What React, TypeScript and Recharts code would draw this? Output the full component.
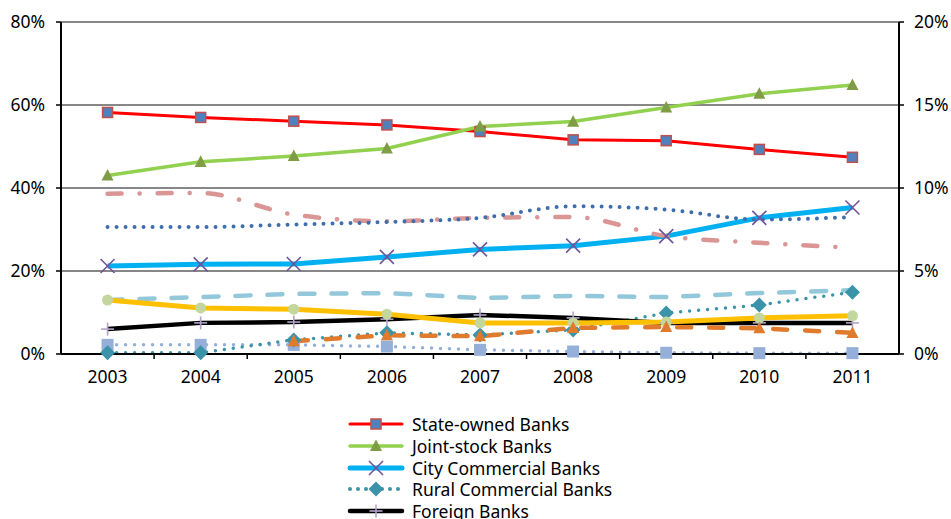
import React from "react";
import {
  CartesianGrid,
  Line,
  LineChart,
  XAxis,
  YAxis,
} from "recharts";

const FONT = "'Noto Sans', 'Open Sans', sans-serif";

const years = ["2003", "2004", "2005", "2006", "2007", "2008", "2009", "2010", "2011"];

// left axis (%)
const stateOwned = [58.2, 57.0, 56.1, 55.2, 53.6, 51.6, 51.4, 49.3, 47.4];
const jointStock = [43.0, 46.3, 47.7, 49.5, 54.8, 56.0, 59.4, 62.7, 64.8];
const cityCommercial = [21.2, 21.6, 21.7, 23.4, 25.2, 26.1, 28.4, 32.8, 35.3];
const ruralCommercial = [0.3, 0.3, 3.4, 5.1, 4.6, 5.8, 9.9, 11.8, 14.9];
const foreign = [6.0, 7.5, 7.7, 8.4, 9.4, 8.7, 7.5, 7.5, 7.5];
const yellowSeries = [13.0, 11.1, 10.8, 9.6, 7.5, 7.5, 7.7, 8.7, 9.2];
const orangeSeries = [null, null, 3.1, 4.5, 4.3, 6.3, 6.5, 6.2, 5.1];
const steelSeries = [2.2, 2.2, 2.2, 1.8, 1.0, 0.6, 0.3, 0.2, 0.2];

// right axis (%)
const pinkSeries = [9.65, 9.7, 8.4, 8.0, 8.2, 8.25, 7.1, 6.7, 6.4];
const navySeries = [7.65, 7.65, 7.8, 7.95, 8.2, 8.9, 8.7, 8.1, 8.25];
const paleBlueSeries = [3.25, 3.43, 3.62, 3.67, 3.37, 3.5, 3.43, 3.67, 3.85];

const leftTicks = [0, 20, 40, 60, 80];
const rightTicks = [0, 5, 10, 15, 20];

const data = years.map((year, i) => ({
  year,
  stateOwned: stateOwned[i],
  jointStock: jointStock[i],
  cityCommercial: cityCommercial[i],
  ruralCommercial: ruralCommercial[i],
  foreign: foreign[i],
  yellowSeries: yellowSeries[i],
  orangeSeries: orangeSeries[i],
  steelSeries: steelSeries[i],
  pinkSeries: pinkSeries[i],
  navySeries: navySeries[i],
  paleBlueSeries: paleBlueSeries[i],
}));

type MarkerSpec = {
  kind: "square" | "triangle" | "x" | "diamond" | "plus" | "circle";
  fill: string;
  stroke?: string;
  size: number;
};

function Marker({ cx, cy, spec }: { cx: number; cy: number; spec: MarkerSpec }) {
  const s = spec.size;
  const h = s / 2;
  switch (spec.kind) {
    case "square":
      return (
        <rect
          x={cx - h}
          y={cy - h}
          width={s}
          height={s}
          fill={spec.fill}
          stroke={spec.stroke ?? "none"}
          strokeWidth={1.5}
        />
      );
    case "triangle":
      return (
        <polygon
          points={`${cx},${cy - s * 0.55} ${cx + h},${cy + s * 0.42} ${cx - h},${cy + s * 0.42}`}
          fill={spec.fill}
        />
      );
    case "diamond":
      return (
        <polygon
          points={`${cx},${cy - h} ${cx + h},${cy} ${cx},${cy + h} ${cx - h},${cy}`}
          fill={spec.fill}
        />
      );
    case "x":
      return (
        <g stroke={spec.fill} strokeWidth={1.6}>
          <line x1={cx - h} y1={cy - h} x2={cx + h} y2={cy + h} />
          <line x1={cx - h} y1={cy + h} x2={cx + h} y2={cy - h} />
        </g>
      );
    case "plus":
      return (
        <g stroke={spec.fill} strokeWidth={1.6}>
          <line x1={cx - h} y1={cy} x2={cx + h} y2={cy} />
          <line x1={cx} y1={cy - h} x2={cx} y2={cy + h} />
        </g>
      );
    default:
      return <circle cx={cx} cy={cy} r={h} fill={spec.fill} />;
  }
}

function makeDot(spec: MarkerSpec) {
  return (props: any) => {
    const { cx, cy, index } = props;
    if (cx == null || cy == null || props.value == null) return <g key={`m-${index}`} />;
    return (
      <g key={`m-${index}`}>
        <Marker cx={cx} cy={cy} spec={spec} />
      </g>
    );
  };
}

const markers: Record<string, MarkerSpec> = {
  state: { kind: "square", fill: "#4F81BD", stroke: "#C0504D", size: 10 },
  joint: { kind: "triangle", fill: "#7E9D45", size: 12 },
  city: { kind: "x", fill: "#70549C", size: 14 },
  rural: { kind: "diamond", fill: "#3A93A8", size: 15 },
  foreign: { kind: "plus", fill: "#B3A2C7", size: 13 },
  yellow: { kind: "circle", fill: "#C3D69B", size: 11 },
  orange: { kind: "triangle", fill: "#E07B2E", size: 12 },
  steel: { kind: "square", fill: "#95AFD8", size: 12 },
};

const legendItems = [
  { label: "State-owned Banks", color: "#FF0000", width: 3, dash: undefined, marker: markers.state },
  { label: "Joint-stock Banks", color: "#92D050", width: 3.5, dash: undefined, marker: markers.joint },
  { label: "City Commercial Banks", color: "#00B0F0", width: 5, dash: undefined, marker: markers.city },
  { label: "Rural Commercial Banks", color: "#3A93A8", width: 4, dash: "0 8", marker: markers.rural },
  { label: "Foreign Banks", color: "#000000", width: 4.5, dash: undefined, marker: markers.foreign },
];

function YearTick(props: any) {
  const { x, y, payload, index, visibleTicksCount, width } = props;
  const half = width && visibleTicksCount ? width / visibleTicksCount / 2 : 46.5;
  return (
    <g>
      {index < visibleTicksCount - 1 && (
        <line x1={x + half} x2={x + half} y1={y} y2={y + 5} stroke="#000" strokeWidth={1.5} />
      )}
      <text x={x} y={y + 29} textAnchor="middle" fontSize={17.5} fontFamily={FONT} fill="#000">
        {payload.value}
      </text>
    </g>
  );
}

const tickStyle = { fill: "#000", fontSize: 17.5, fontFamily: FONT };

export default function App() {
  return (
    <div
      style={{
        position: "absolute",
        left: 0,
        top: 0,
        width: 951,
        height: 519,
        overflow: "hidden",
        background: "#fff",
        fontFamily: FONT,
      }}
    >
      <LineChart
        width={951}
        height={519}
        data={data}
        margin={{ top: 22, right: 0, bottom: 135, left: 0 }}
      >
        <CartesianGrid vertical={false} stroke="#878787" strokeWidth={2} yAxisId="left" />
        <XAxis
          dataKey="year"
          scale="band"
          height={30}
          tickLine={false}
          tickSize={0}
          tickMargin={0}
          axisLine={{ stroke: "#000", strokeWidth: 2 }}
          tick={<YearTick />}
          interval={0}
        />
        <XAxis
          xAxisId="top"
          dataKey="year"
          scale="band"
          orientation="top"
          height={0}
          tick={false}
          tickLine={false}
          axisLine={{ stroke: "#000", strokeWidth: 2 }}
        />
        <YAxis
          yAxisId="left"
          width={61}
          domain={[0, 80]}
          ticks={leftTicks}
          tickFormatter={(v) => `${v}%`}
          axisLine={{ stroke: "#000", strokeWidth: 2 }}
          tickLine={{ stroke: "#000", strokeWidth: 1.5 }}
          tickSize={5}
          tickMargin={11}
          tick={tickStyle}
        />
        <YAxis
          yAxisId="right"
          orientation="right"
          width={52}
          domain={[0, 20]}
          ticks={rightTicks}
          tickFormatter={(v) => `${v}%`}
          axisLine={{ stroke: "#000", strokeWidth: 2 }}
          tickLine={{ stroke: "#000", strokeWidth: 1.5 }}
          tickSize={5}
          tickMargin={10}
          tick={tickStyle}
        />

        <Line yAxisId="left" dataKey="stateOwned" name="State-owned Banks" type="linear" stroke="#FF0000" strokeWidth={3} dot={makeDot(markers.state)} isAnimationActive={false} />
        <Line yAxisId="left" dataKey="jointStock" name="Joint-stock Banks" type="linear" stroke="#92D050" strokeWidth={3.5} dot={makeDot(markers.joint)} isAnimationActive={false} />
        <Line yAxisId="left" dataKey="cityCommercial" name="City Commercial Banks" type="linear" stroke="#00B0F0" strokeWidth={5} dot={makeDot(markers.city)} isAnimationActive={false} />
        <Line yAxisId="right" dataKey="pinkSeries" type="monotone" stroke="#D99694" strokeWidth={4.5} strokeDasharray="14 18 0.1 18" strokeLinecap="round" dot={false} isAnimationActive={false} />
        <Line yAxisId="right" dataKey="navySeries" type="monotone" stroke="#3F6EAD" strokeWidth={4} strokeDasharray="0 9" strokeLinecap="round" dot={false} isAnimationActive={false} />
        <Line yAxisId="right" dataKey="paleBlueSeries" type="linear" stroke="#93C8DA" strokeWidth={4.5} strokeDasharray="15 17" strokeLinecap="round" dot={false} isAnimationActive={false} />
        <Line yAxisId="left" dataKey="steelSeries" type="linear" stroke="#95AFD8" strokeWidth={3.5} strokeDasharray="0 9" strokeLinecap="round" dot={makeDot(markers.steel)} isAnimationActive={false} />
        <Line yAxisId="left" dataKey="ruralCommercial" name="Rural Commercial Banks" type="linear" stroke="#3A93A8" strokeWidth={3.5} strokeDasharray="0 9" strokeLinecap="round" dot={makeDot(markers.rural)} isAnimationActive={false} />
        <Line yAxisId="left" dataKey="foreign" name="Foreign Banks" type="linear" stroke="#000000" strokeWidth={4.5} dot={makeDot(markers.foreign)} isAnimationActive={false} />
        <Line yAxisId="left" dataKey="yellowSeries" type="linear" stroke="#FFC000" strokeWidth={5} dot={makeDot(markers.yellow)} isAnimationActive={false} />
        <Line yAxisId="left" dataKey="orangeSeries" type="linear" stroke="#E07B2E" strokeWidth={4.5} strokeDasharray="14 18" strokeLinecap="round" dot={makeDot(markers.orange)} isAnimationActive={false} />
      </LineChart>

      {legendItems.map((item, i) => (
        <div
          key={item.label}
          style={{
            position: "absolute",
            left: 347,
            top: 413 + i * 21.8,
            height: 22,
            display: "flex",
            alignItems: "center",
            whiteSpace: "nowrap",
          }}
        >
          <svg width={58} height={22} style={{ display: "block" }}>
            <line
              x1={3}
              x2={55}
              y1={11}
              y2={11}
              stroke={item.color}
              strokeWidth={item.width}
              strokeDasharray={item.dash}
              strokeLinecap="round"
            />
            <Marker cx={29} cy={11} spec={item.marker} />
          </svg>
          <span style={{ marginLeft: 7, fontSize: 17.5, color: "#000", lineHeight: "22px" }}>
            {item.label}
          </span>
        </div>
      ))}
    </div>
  );
}
